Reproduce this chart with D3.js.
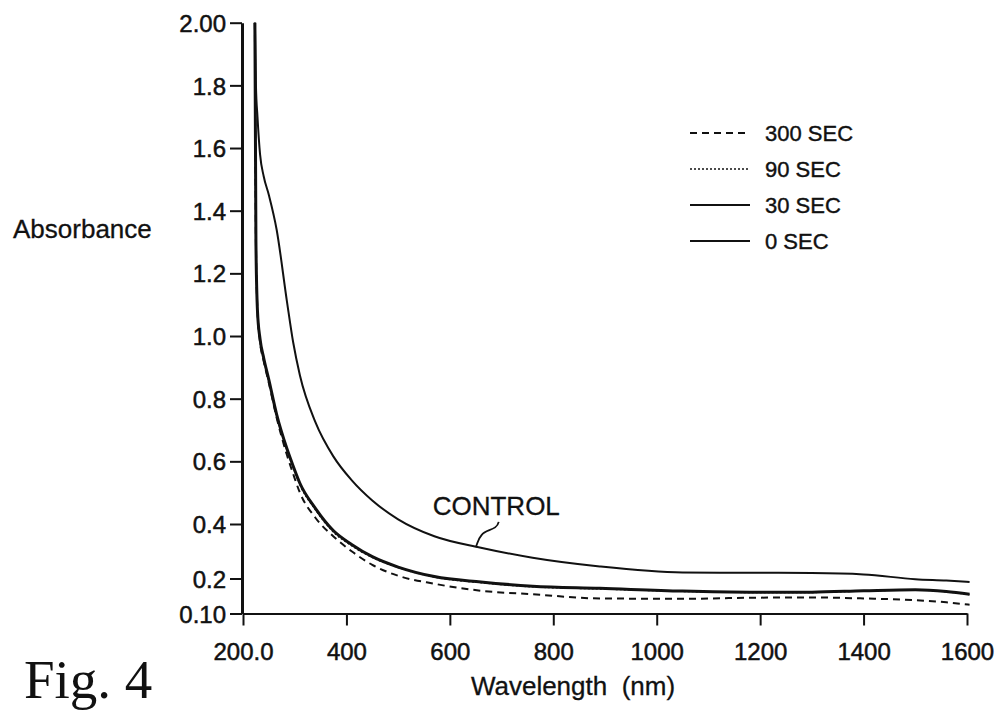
<!DOCTYPE html>
<html>
<head>
<meta charset="utf-8">
<script src="https://cdn.jsdelivr.net/npm/d3@7"></script>
<style>
  body { margin: 0; background: #fff; }
  svg { display: block; }
  text { font-family: "Liberation Sans", Arial, sans-serif; fill: #111; }
</style>
</head>
<body>
<figure id="absChart" style="margin:0"></figure>
<script>
// wavelengths (nm) shared by all curves
const wavelength = [223, 225, 228, 233, 240, 250, 265, 285, 297, 310, 340, 375, 410, 450, 500,
  570, 660, 760, 890, 1050, 1180, 1300, 1400, 1500, 1560, 1605];

// absorbance per exposure time
const abs0 = [2.0, 1.80, 1.70, 1.58, 1.51, 1.45, 1.34, 1.11, 0.98, 0.875, 0.725, 0.615, 0.54, 0.475, 0.415,
  0.355, 0.313, 0.276, 0.244, 0.222, 0.221, 0.220, 0.215, 0.198, 0.194, 0.190];
const abs30 = [2.0, 1.30, 1.08, 0.99, 0.93, 0.86, 0.75, 0.64, 0.585, 0.53, 0.45, 0.375, 0.325, 0.28, 0.242,
  0.207, 0.190, 0.178, 0.172, 0.164, 0.161, 0.161, 0.165, 0.168, 0.163, 0.155];
const abs90 = [2.0, 1.30, 1.07, 0.98, 0.925, 0.855, 0.745, 0.635, 0.58, 0.525, 0.445, 0.37, 0.32, 0.277, 0.24,
  0.205, 0.188, 0.176, 0.170, 0.163, 0.160, 0.160, 0.164, 0.167, 0.162, 0.154];
const abs300 = [2.0, 1.30, 1.08, 0.98, 0.92, 0.85, 0.74, 0.62, 0.56, 0.50, 0.42, 0.354, 0.30, 0.25, 0.21,
  0.185, 0.165, 0.155, 0.143, 0.142, 0.145, 0.146, 0.143, 0.138, 0.132, 0.125];

const legendLabels = ["300 SEC", "90 SEC", "30 SEC", "0 SEC"];
const xTicks = [200, 400, 600, 800, 1000, 1200, 1400, 1600];
const xTickLabels = ["200.0", "400", "600", "800", "1000", "1200", "1400", "1600"];
const yTicks = [0.1, 0.2, 0.4, 0.6, 0.8, 1.0, 1.2, 1.4, 1.6, 1.8, 2.0];
const yTickLabels = ["0.10", "0.2", "0.4", "0.6", "0.8", "1.0", "1.2", "1.4", "1.6", "1.8", "2.00"];

class AbsChart {

  constructor() {
    this.width = 997;
    this.height = 711;
    // line styles, same order as legendLabels
    this.styles = [
      { data: abs300, width: 2, dash: "7,5" },
      { data: abs90, width: 1.3, dash: "2,2" },
      { data: abs30, width: 3, dash: null },
      { data: abs0, width: 2, dash: null }
    ];
  }

  init() {
    this.svg = d3.select("figure#absChart").append("svg")
      .attr("width", this.width)
      .attr("height", this.height);
  }

  draw() {
    const svg = this.svg;
    const x = d3.scaleLinear().domain([200, 1600]).range([243, 967]);
    // the original axis is not quite linear below 0.4
    const y = d3.scaleLinear().domain([0.1, 0.2, 0.4, 2.0]).range([613.5, 578.5, 524, 22.7]);

    // curves
    const line = d3.line()
      .x((d, i) => x(wavelength[i]))
      .y(d => y(d))
      .curve(d3.curveMonotoneX);
    this.styles.forEach(s => {
      svg.append("path")
        .attr("d", line(s.data))
        .attr("fill", "none")
        .attr("stroke", "#111")
        .attr("stroke-width", s.width)
        .attr("stroke-dasharray", s.dash);
    });

    // X Axis
    const xAxis = svg.append("g")
      .attr("transform", "translate(0," + y(0.1) + ")")
      .call(d3.axisBottom(x).tickValues(xTicks).tickSize(12).tickSizeOuter(0)
        .tickFormat((d, i) => xTickLabels[i]));
    xAxis.select(".domain").attr("stroke", "#111").attr("stroke-width", 2.2);
    xAxis.selectAll(".tick line").attr("stroke", "#111").attr("stroke-width", 2);
    xAxis.selectAll(".tick text")
      .attr("font-size", 24)
      .attr("font-family", "Liberation Sans, Arial, sans-serif")
      .attr("fill", "#111")
      .attr("stroke", "#111").attr("stroke-width", 0.5)
      .attr("dy", 0)
      .attr("y", 46);

    // Y Axis
    const yAxis = svg.append("g")
      .attr("transform", "translate(242,0)")
      .call(d3.axisLeft(y).tickValues(yTicks).tickSize(12).tickSizeOuter(0)
        .tickFormat((d, i) => yTickLabels[i]));
    yAxis.select(".domain").attr("stroke", "#111").attr("stroke-width", 3);
    yAxis.selectAll(".tick line").attr("stroke", "#111").attr("stroke-width", 2);
    yAxis.selectAll(".tick text")
      .attr("font-size", 24)
      .attr("font-family", "Liberation Sans, Arial, sans-serif")
      .attr("fill", "#111")
      .attr("stroke", "#111").attr("stroke-width", 0.5)
      .attr("x", -16)
      .attr("dy", "0.36em");

    // axis titles
    svg.append("text")
      .attr("x", 13).attr("y", 238)
      .attr("font-size", 26)
      .attr("stroke", "#111").attr("stroke-width", 0.3)
      .text("Absorbance");
    svg.append("text")
      .attr("x", 573).attr("y", 695)
      .attr("text-anchor", "middle")
      .attr("font-size", 26)
      .attr("stroke", "#111").attr("stroke-width", 0.3)
      .style("white-space", "pre")
      .text("Wavelength  (nm)");
    svg.append("text")
      .attr("x", 24).attr("y", 698)
      .attr("font-size", 55)
      .style("font-family", "'Liberation Serif', 'Times New Roman', serif")
      .text("Fig. 4");

    // CONTROL annotation with its little leader
    const ax = x(650), ay = y(0.316);
    svg.append("text")
      .attr("x", ax - 43).attr("y", ay - 32)
      .attr("font-size", 26)
      .attr("stroke", "#111").attr("stroke-width", 0.3)
      .text("CONTROL");
    svg.append("path")
      .attr("d", `M${ax + 23},${ay - 25} C${ax + 21},${ay - 16} ${ax + 10},${ay - 18} ${ax + 6},${ay - 12}` +
        ` C${ax + 1},${ay - 6} ${ax + 2},${ay - 3} ${ax},${ay}`)
      .attr("fill", "none")
      .attr("stroke", "#111")
      .attr("stroke-width", 1.8);

    // legend
    const legend = svg.append("g").attr("transform", "translate(690,141)");
    legendLabels.forEach((label, i) => {
      const s = this.styles[i];
      legend.append("line")
        .attr("x1", 0).attr("x2", 60)
        .attr("y1", i * 36 - 8).attr("y2", i * 36 - 8)
        .attr("stroke", "#111")
        .attr("stroke-width", Math.min(s.width, 2.2))
        .attr("stroke-dasharray", s.dash);
      legend.append("text")
        .attr("x", 75).attr("y", i * 36)
        .attr("font-size", 22)
        .attr("stroke", "#111").attr("stroke-width", 0.4)
        .text(label);
    });
  }
}

var absChart = new AbsChart();
absChart.init();
absChart.draw();
</script>
</body>
</html>
